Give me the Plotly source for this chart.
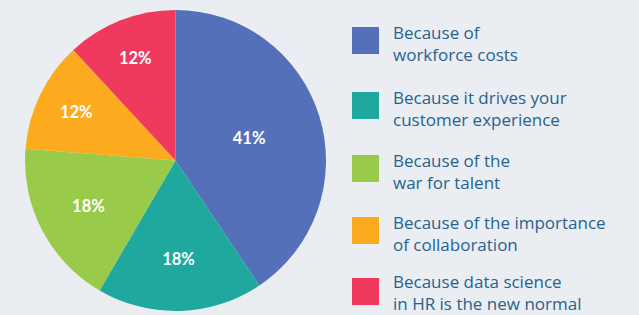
import plotly.graph_objects as go

categories = [
    "Because of<br>workforce costs",
    "Because it drives your<br>customer experience",
    "Because of the<br>war for talent",
    "Because of the importance<br>of collaboration",
    "Because data science<br>in HR is the new normal",
]
values = [41, 18, 18, 12, 12]
colors = ["#5470b8", "#1fa89e", "#9aca4a", "#fbab1d", "#ef3a5d"]

BG = "#eaeef2"
TEXT = "#27628f"

fig = go.Figure()
fig.add_trace(go.Pie(
    labels=categories,
    values=values,
    marker=dict(colors=colors, line=dict(width=0)),
    sort=False,
    direction="clockwise",
    rotation=0,
    texttemplate="%{value}%",
    textposition="inside",
    insidetextorientation="horizontal",
    textfont=dict(family="Lato", size=16.5, color="white", weight="bold"),
    domain=dict(x=[25/639, 326/639], y=[4/315, 305/315]),
    showlegend=False,
    hoverinfo="label+value",
))

# custom legend
tops = [27, 92, 155, 217, 278]
shapes = []
annotations = []
for cat, col, t in zip(categories, colors, tops):
    shapes.append(dict(type="rect", xref="paper", yref="paper",
                       x0=352/639, x1=379/639, y0=1 - (t + 27)/315, y1=1 - t/315,
                       fillcolor=col, line=dict(width=0)))
    yc = min(t + 16.5, 292)
    annotations.append(dict(xref="paper", yref="paper", x=392/639, y=1 - yc/315,
                            xanchor="left", yanchor="middle", align="left",
                            showarrow=False, text=cat, borderpad=0,
                            font=dict(family="Open Sans", size=17, color=TEXT)))

fig.update_layout(
    width=639, height=315,
    margin=dict(l=0, r=0, t=0, b=0),
    paper_bgcolor=BG, plot_bgcolor=BG,
    shapes=shapes, annotations=annotations,
)
fig.write_html("out.html", config={"displayModeBar": False},
               post_script="document.body.style.margin='0';")
